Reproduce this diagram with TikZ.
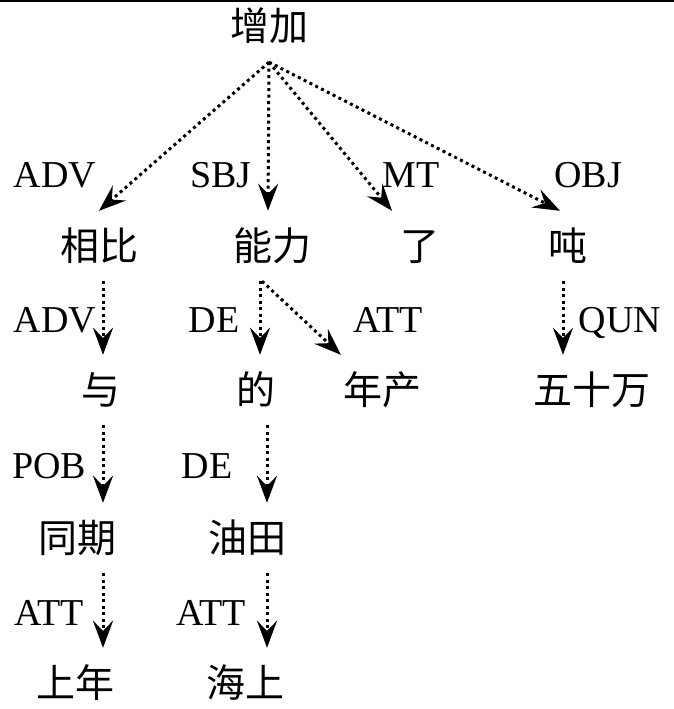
\documentclass[tikz,border=0pt]{standalone}
\usepackage{fontspec}
\setmainfont{Liberation Serif}
\newfontfamily\cjk{Noto Sans CJK SC}
\usetikzlibrary{arrows.meta}

\begin{document}
\begin{tikzpicture}[x=1pt, y=-1pt,
  word/.style={font=\cjk\fontsize{39}{39}\selectfont, inner xsep=0pt, inner ysep=18pt, text height=31pt, text depth=3pt},
  rel/.style={font=\fontsize{38}{38}\selectfont, inner sep=0pt, text height=25pt, text depth=0pt},
  dep/.style={line width=3pt, dash pattern=on 3pt off 3.5pt, -{Stealth[length=27pt, width=20pt, inset=10pt]}}]
  \useasboundingbox (0,0) rectangle (674,709);

  % Rule across the top
  \draw[line width=2.5pt] (0,1) -- (674,1);

  % Head word
  \node[word] (zengjia) at (269,27) {增加};

  % First level
  \node[word] (xiangbi) at (99,246) {相比};
  \node[word] (nengli) at (272,246) {能力};
  \node[word] (le) at (420,246) {了};
  \node[word] (dun) at (568,246) {吨};
  \node[rel] (adv1) at (55,175) {ADV};
  \node[rel] (sbj) at (221,175) {SBJ};
  \node[rel] (mt) at (411,175) {MT};
  \node[rel] (obj) at (588,175) {OBJ};
  \draw[dep] (zengjia.south) -- (xiangbi.north);
  \draw[dep] (zengjia.south) -- ([xshift=-4pt]nengli.north);
  \draw[dep] (zengjia.south) -- ([xshift=-28pt]le.north);
  \draw[dep] (zengjia.south) -- ([xshift=-8pt]dun.north);

  % Second level
  \node[word] (yu) at (101,390) {与};
  \node[word] (de) at (256,390) {的};
  \node[word] (niancan) at (382,390) {年产};
  \node[word] (wushiwan) at (592,390) {五十万};
  \node[rel] (adv2) at (55,320) {ADV};
  \node[rel] (de1) at (214,320) {DE};
  \node[rel] (att1) at (388,320) {ATT};
  \node[rel] (qun) at (620,320) {QUN};
  \draw[dep] ([xshift=4pt]xiangbi.south) -- ([xshift=2pt]yu.north);
  \draw[dep] ([xshift=-12pt]nengli.south) -- ([xshift=4pt]de.north);
  \draw[dep] ([xshift=-10pt]nengli.south) -- ([xshift=-2pt]niancan.north west);
  \draw[dep] ([xshift=-5pt]dun.south) -- ([xshift=-29pt]wushiwan.north);

  % Third level
  \node[word] (tongqi) at (77,538) {同期};
  \node[word] (youtian) at (247,538) {油田};
  \node[rel] (pob) at (49,466) {POB};
  \node[rel] (de2) at (207,466) {DE};
  \draw[dep] ([xshift=2pt]yu.south) -- ([xshift=26pt]tongqi.north);
  \draw[dep] ([xshift=11pt]de.south) -- ([xshift=20pt]youtian.north);

  % Fourth level
  \node[word] (shangnian) at (75,683) {上年};
  \node[word] (haishang) at (245,683) {海上};
  \node[rel] (att2) at (49,613) {ATT};
  \node[rel] (att3) at (211,613) {ATT};
  \draw[dep] ([xshift=26pt]tongqi.south) -- ([xshift=28pt]shangnian.north);
  \draw[dep] ([xshift=20pt]youtian.south) -- ([xshift=22pt]haishang.north);
\end{tikzpicture}
\end{document}
